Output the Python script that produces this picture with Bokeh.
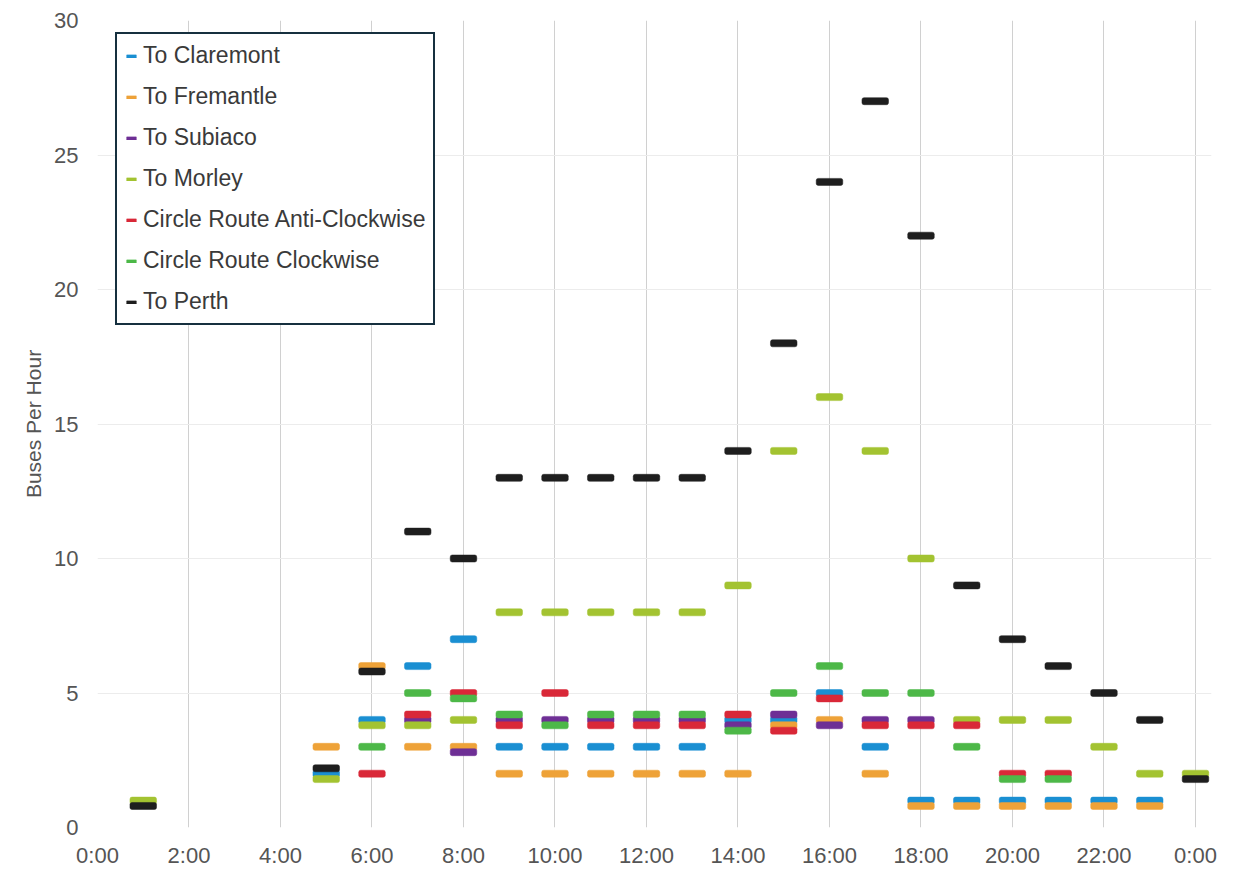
from bokeh.plotting import figure
from bokeh.models import FixedTicker, Legend, LegendItem, ColumnDataSource
from bokeh.embed import file_html
from bokeh.resources import INLINE

# Hour of day for each service interval (24 = midnight at end of day)
hours = [1, 5, 6, 7, 8, 9, 10, 11, 12, 13, 14, 15, 16, 17, 18, 19, 20, 21, 22, 23, 24]

to_claremont = [None, 2.0, 4.0, 6, 7, 3, 3, 3, 3, 3, 4.0, 4.0, 5.0, 3, 1, 1, 1, 1, 1, 1, None]
to_fremantle = [None, 3, 6.0, 3, 3.0, 2, 2, 2, 2, 2, 2, 3.8, 4.0, 2, 0.8, 0.8, 0.8, 0.8, 0.8, 0.8, None]
to_subiaco = [None, None, None, 4.0, 2.8, 4.0, 4.0, 4.0, 4.0, 4.0, 3.8, 4.2, 3.8, 4.0, 4.0,
              None, None, None, None, None, None]
to_morley = [1.0, 1.8, 3.8, 3.8, 4.0, 8, 8, 8, 8, 8, 9, 14, 16, 14, 10, 4.0, 4, 4, 3, 2, 2.0]
circle_anti = [None, None, 2.0, 4.2, 5.0, 3.8, 5.0, 3.8, 3.8, 3.8, 4.2, 3.6, 4.8, 3.8, 3.8, 3.8,
               2.0, 2.0, None, None, None]
circle_clock = [None, None, 3.0, 5.0, 4.8, 4.2, 3.8, 4.2, 4.2, 4.2, 3.6, 5.0, 6.0, 5.0, 5.0, 3.0,
                1.8, 1.8, None, None, None]
to_perth = [0.8, 2.2, 5.8, 11, 10, 13, 13, 13, 13, 13, 14, 18, 24, 27, 22, 9, 7, 6, 5, 4, 1.8]

series = [
    ("To Claremont", to_claremont, "#1a8fd2"),
    ("To Fremantle", to_fremantle, "#eea238"),
    ("To Subiaco", to_subiaco, "#6e2f95"),
    ("To Morley", to_morley, "#a3c331"),
    ("Circle Route Anti-Clockwise", circle_anti, "#d92838"),
    ("Circle Route Clockwise", circle_clock, "#4db848"),
    ("To Perth", to_perth, "#1e1e1e"),
]

tick_hours = list(range(0, 25, 2))
tick_labels = {h: f"{h % 24}:00" for h in tick_hours}

FONT = "Liberation Sans"

# x range runs a little past midnight so the last dash is not clipped
p = figure(width=1241, height=879, output_backend="svg", toolbar_location=None,
           x_range=(0, 24.35), y_range=(0, 30),
           min_border_left=97, min_border_right=30, min_border_top=20, min_border_bottom=52)
p.outline_line_color = None
p.background_fill_color = "white"
p.border_fill_color = "white"

items = []
for name, vals, color in series:
    xs = [h for h, v in zip(hours, vals) if v is not None]
    ys = [v for v in vals if v is not None]
    src = ColumnDataSource(dict(x=xs, y=ys))
    r = p.rect(x="x", y="y", width=0.58, height=7, height_units="screen", source=src,
               fill_color=color, line_color=color, line_width=0.5, border_radius=2)
    items.append(LegendItem(label=name, renderers=[r]))

# Axes
p.xaxis.ticker = FixedTicker(ticks=tick_hours)
p.xaxis.major_label_overrides = tick_labels
p.yaxis.ticker = FixedTicker(ticks=list(range(0, 31, 5)))
for ax in (p.xaxis[0], p.yaxis[0]):
    ax.axis_line_color = None
    ax.major_tick_line_color = None
    ax.minor_tick_line_color = None
    ax.major_label_text_font = FONT
    ax.major_label_text_font_size = "22px"
    ax.major_label_text_color = "#555555"
p.xaxis.major_label_standoff = 9
p.yaxis.major_label_standoff = 13
p.yaxis.axis_label = "Buses Per Hour"
p.yaxis.axis_label_text_font = FONT
p.yaxis.axis_label_text_font_size = "21px"
p.yaxis.axis_label_text_font_style = "normal"
p.yaxis.axis_label_text_color = "#555555"
p.yaxis.axis_label_standoff = 6

p.xgrid.ticker = FixedTicker(ticks=tick_hours)
p.xgrid.grid_line_color = "#d0d0d0"
p.ygrid.grid_line_color = "#ececec"

legend = Legend(items=items, location=(18, 502), margin=0,
                label_text_font=FONT, label_text_font_size="23px", label_text_color="#3a3a3a",
                glyph_width=12, glyph_height=4, label_standoff=6, label_height=27,
                spacing=14, padding=8,
                border_line_color="#16303f", border_line_width=2, border_line_alpha=1,
                background_fill_color="white", background_fill_alpha=1)
p.add_layout(legend)

open("out.html", "w").write(file_html(p, INLINE))
